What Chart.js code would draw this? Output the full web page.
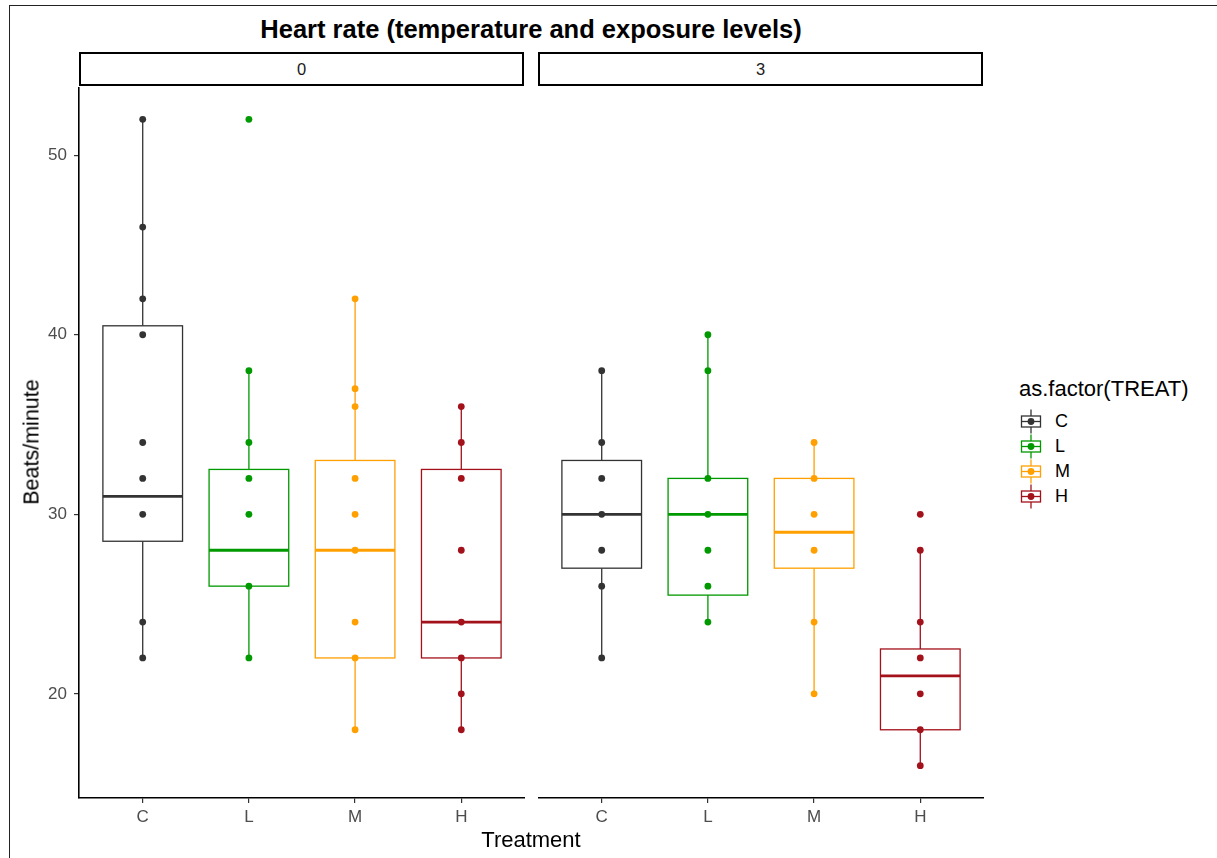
<!DOCTYPE html>
<html>
<head>
<meta charset="utf-8">
<script src="https://cdn.jsdelivr.net/npm/chart.js@4.4.1/dist/chart.umd.min.js"></script>
<style>
  body { margin: 0; background: #fff; font-family: "Liberation Sans", Arial, Helvetica, sans-serif; }
  #page { position: relative; width: 1217px; height: 858px; overflow: hidden; }
  #frame { position: absolute; left: 9px; top: 5px; width: 1220px; height: 870px;
           border-left: 1.5px solid #222; border-top: 1.5px solid #222; }
  .abs { position: absolute; }
  #title { left: 0; width: 1062px; top: 14px; line-height: 30px; text-align: center;
           font-weight: bold; font-size: 25.5px; color: #000; }
  .strip { top: 52px; height: 30px; border: 2.5px solid #000; box-sizing: content-box;
           text-align: center; line-height: 30px; font-size: 16.5px; color: #1a1a1a; }
  #ytitle { left: 32px; top: 442px; transform: translate(-50%, -50%) rotate(-90deg);
            font-size: 21.5px; white-space: nowrap; color: #000; }
  #xtitle { left: 0; width: 1062px; top: 827px; line-height: 26px; text-align: center; font-size: 22px; color: #000; }
  #legtitle { left: 1019px; top: 376px; line-height: 26px; font-size: 22px; color: #000; white-space: nowrap; }
  .legitem { left: 1018px; height: 25px; font-size: 18px; color: #000; }
  .legitem canvas { position: absolute; left: 0; top: 0; }
  .legitem span { position: absolute; left: 37px; top: 0; line-height: 25px; }
</style>
</head>
<body>
<div id="page">
  <div id="frame"></div>
  <div id="title" class="abs">Heart rate (temperature and exposure levels)</div>
  <div class="abs strip" style="left:79px;width:441px;">0</div>
  <div class="abs strip" style="left:538px;width:441px;">3</div>
  <canvas id="panel0" class="abs" style="left:0;top:87px;"></canvas>
  <canvas id="panel3" class="abs" style="left:538px;top:87px;"></canvas>
  <div id="ytitle" class="abs">Beats/minute</div>
  <div id="xtitle" class="abs">Treatment</div>
  <div id="legtitle" class="abs">as.factor(TREAT)</div>
  <div id="legend"></div>
</div>
<script>
// treatment levels and their colours
const treatments = ['C', 'L', 'M', 'H'];
const treatColors = ['#333333', '#009900', '#FFA000', '#A3111B'];
const yTicks = [20, 30, 40, 50];

// heart rate observations, exposure level 0
const exp0C = [22, 24, 30, 32, 34, 40, 42, 46, 52];
const exp0L = [22, 26, 30, 32, 34, 38, 52];
const exp0M = [18, 22, 24, 28, 30, 32, 36, 37, 42];
const exp0H = [18, 20, 22, 24, 28, 32, 34, 36];

// heart rate observations, exposure level 3
const exp3C = [22, 26, 28, 30, 32, 34, 38];
const exp3L = [24, 26, 28, 30, 32, 38, 40];
const exp3M = [20, 24, 28, 30, 32, 34];
const exp3H = [16, 18, 20, 22, 24, 28, 30];

// box stats: [lower whisker, Q1, median, Q3, upper whisker]
const box0C = [22, 28.5, 31, 40.5, 52];
const box0L = [22, 26, 28, 32.5, 38];
const box0M = [18, 22, 28, 33, 42];
const box0H = [18, 22, 24, 32.5, 36];
const box3C = [22, 27, 30, 33, 38];
const box3L = [24, 25.5, 30, 32, 40];
const box3M = [20, 27, 29, 32, 34];
const box3H = [16, 18, 21, 22.5, 28];

const yMin = 14.2, yMax = 53.8;

// draws whiskers, boxes and medians under the points
const boxPlugin = {
  id: 'boxes',
  beforeDatasetsDraw(chart) {
    const ctx = chart.ctx;
    const xs = chart.scales.x, ys = chart.scales.y;
    const stats = chart.options.plugins.boxes.stats;
    const half = (xs.getPixelForValue(1.375) - xs.getPixelForValue(0.625)) / 2;
    ctx.save();
    stats.forEach(function (s, i) {
      const cx = xs.getPixelForValue(i + 1);
      const lo = ys.getPixelForValue(s[0]);
      const q1 = ys.getPixelForValue(s[1]);
      const med = ys.getPixelForValue(s[2]);
      const q3 = ys.getPixelForValue(s[3]);
      const hi = ys.getPixelForValue(s[4]);
      ctx.strokeStyle = treatColors[i];
      ctx.lineWidth = 1.3;
      ctx.beginPath();
      ctx.moveTo(cx, hi); ctx.lineTo(cx, q3);
      ctx.moveTo(cx, q1); ctx.lineTo(cx, lo);
      ctx.stroke();
      ctx.fillStyle = '#fff';
      ctx.fillRect(cx - half, q3, half * 2, q1 - q3);
      ctx.strokeRect(cx - half, q3, half * 2, q1 - q3);
      ctx.lineWidth = 2.8;
      ctx.beginPath();
      ctx.moveTo(cx - half, med); ctx.lineTo(cx + half, med);
      ctx.stroke();
    });
    ctx.restore();
  }
};

function makePanel(id, width, showY, groups, stats) {
  const canvas = document.getElementById(id);
  canvas.width = width;
  canvas.height = 743;
  canvas.style.width = width + 'px';
  canvas.style.height = '743px';
  const datasets = groups.map(function (vals, i) {
    return {
      label: treatments[i],
      data: vals.map(function (v) { return {x: i + 1, y: v}; }),
      backgroundColor: treatColors[i],
      borderWidth: 0,
      pointRadius: 3.4
    };
  });
  return new Chart(canvas, {
    type: 'scatter',
    data: {datasets: datasets},
    plugins: [boxPlugin],
    options: {
      responsive: false,
      animation: false,
      layout: {padding: 0, autoPadding: false},
      plugins: {
        legend: {display: false},
        tooltip: {enabled: false},
        boxes: {stats: stats}
      },
      scales: {
        x: {
          type: 'linear',
          min: 0.4,
          max: 4.6,
          afterBuildTicks: function (scale) {
            scale.ticks = treatments.map(function (t, i) { return {value: i + 1}; });
          },
          afterFit: function (scale) {
            scale.height = 32;
            scale.paddingLeft = 0;
            scale.paddingRight = 0;
          },
          ticks: {
            padding: 4,
            color: '#4d4d4d',
            font: {family: '"Liberation Sans", Arial, sans-serif', size: 17},
            callback: function (v) { return treatments[v - 1]; }
          },
          grid: {drawOnChartArea: false, color: '#333', tickLength: 5, lineWidth: 1.2},
          border: {display: true, color: '#000', width: 1.6}
        },
        y: {
          display: showY,
          type: 'linear',
          min: yMin,
          max: yMax,
          afterBuildTicks: function (scale) {
            scale.ticks = yTicks.map(function (v) { return {value: v}; });
          },
          afterFit: function (scale) {
            scale.width = showY ? 79 : 0;
            scale.paddingTop = 0;
            scale.paddingBottom = 0;
          },
          ticks: {
            padding: 7,
            color: '#4d4d4d',
            font: {family: '"Liberation Sans", Arial, sans-serif', size: 17}
          },
          grid: {drawOnChartArea: false, color: '#333', tickLength: 5, lineWidth: 1.2},
          border: {display: true, color: '#000', width: 1.6}
        }
      }
    }
  });
}

makePanel('panel0', 525, true, [exp0C, exp0L, exp0M, exp0H], [box0C, box0L, box0M, box0H]);
makePanel('panel3', 446, false, [exp3C, exp3L, exp3M, exp3H], [box3C, box3L, box3M, box3H]);

// legend keys: small box-and-point glyphs
const legend = document.getElementById('legend');
treatments.forEach(function (t, i) {
  const item = document.createElement('div');
  item.className = 'abs legitem';
  item.style.top = (409 + i * 25) + 'px';
  const key = document.createElement('canvas');
  key.width = 24; key.height = 25;
  const g = key.getContext('2d');
  g.strokeStyle = treatColors[i];
  g.lineWidth = 1.3;
  g.beginPath();
  g.moveTo(13, 0.5); g.lineTo(13, 24.5);
  g.stroke();
  g.fillStyle = '#fff';
  g.fillRect(3.5, 7, 19, 11);
  g.strokeRect(3.5, 7, 19, 11);
  g.beginPath();
  g.moveTo(3.5, 12.5); g.lineTo(22.5, 12.5);
  g.stroke();
  g.fillStyle = treatColors[i];
  g.beginPath();
  g.arc(13, 12.5, 3.4, 0, Math.PI * 2);
  g.fill();
  item.appendChild(key);
  const label = document.createElement('span');
  label.textContent = t;
  item.appendChild(label);
  legend.appendChild(item);
});
</script>
</body>
</html>
